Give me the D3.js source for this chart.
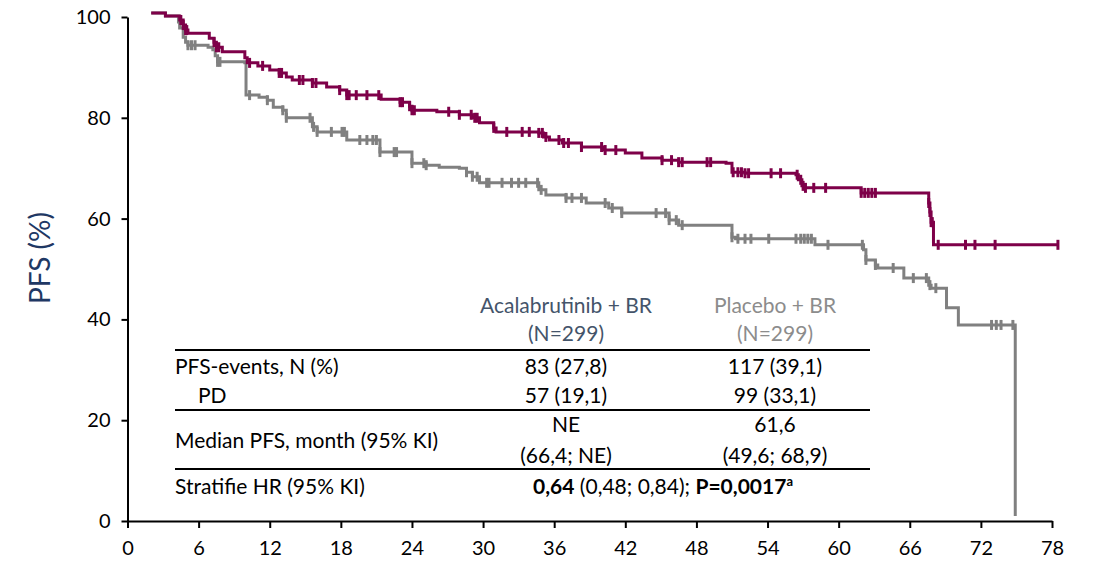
<!DOCTYPE html>
<html><head><meta charset="utf-8">
<script src="https://cdn.jsdelivr.net/npm/d3@7"></script>
<style>
body{margin:0;background:#fff;}
svg{display:block;font-family:Lato, "Open Sans", sans-serif;}
</style></head>
<body><svg id="c" width="1094" height="566"></svg>
<script>
// x ticks (months) and y ticks (%)
const xTicks = [0,6,12,18,24,30,36,42,48,54,60,66,72,78];
const yTicks = [0,20,40,60,80,100];

// Kaplan-Meier steps [month, PFS %]
const acalaSteps = [[2.0,100.8],[3.2,100.2],[4.4,99.4],[4.7,98.4],[4.9,97.4],[5.1,96.8],[6.9,95.8],[7.3,95.0],[7.5,94.0],[8.0,93.1],[9.9,91.9],[10.1,90.9],[11.0,90.3],[12.0,89.5],[12.8,88.9],[13.4,88.1],[13.9,87.5],[15.6,86.9],[16.8,86.1],[17.9,85.5],[18.5,84.5],[21.4,83.7],[23.0,83.1],[23.8,82.3],[24.0,81.5],[26.1,81.2],[28.0,80.6],[29.1,80.0],[29.7,79.0],[30.9,78.0],[31.1,77.2],[34.7,77.0],[35.1,76.2],[35.6,75.6],[36.7,75.0],[38.3,74.2],[40.2,73.6],[42.0,73.0],[43.4,72.0],[45.1,71.6],[46.5,71.2],[50.5,71.0],[51.0,69.2],[52.1,69.0],[56.4,68.7],[56.6,67.7],[56.9,66.5],[57.1,66.1],[61.9,65.1],[67.6,63.1],[67.7,61.3],[67.8,59.3],[68.0,54.8]];
const acalaEnd = 78.5;
const acalaCensors = [4.5,4.7,4.9,5.0,7.3,7.5,7.7,10.3,11.4,12.8,13.0,14.5,14.8,15.6,15.9,17.9,18.5,18.7,19.3,20.2,21.2,23.0,23.2,23.8,24.0,24.2,27.1,28.0,29.0,29.3,29.5,30.9,32.0,33.3,33.9,34.7,35.0,35.3,36.4,36.8,37.2,38.3,40.0,40.3,41.2,45.1,45.9,46.5,46.8,48.9,49.2,51.1,51.5,51.8,52.1,52.4,54.3,55.1,56.5,56.8,57.0,57.2,57.9,58.9,61.9,62.2,62.5,62.8,63.1,67.6,67.7,67.8,67.9,68.4,70.7,71.5,73.2,78.5];

const placeboSteps = [[2.0,100.8],[3.2,100.2],[4.3,99.0],[4.4,97.8],[4.7,96.0],[4.9,95.0],[5.1,94.4],[6.8,94.0],[7.2,93.5],[7.4,92.3],[7.6,91.1],[9.9,90.9],[10.0,84.5],[11.1,84.1],[11.8,83.5],[12.3,82.1],[13.1,81.5],[13.4,80.0],[15.6,78.2],[16.0,77.2],[18.5,75.6],[21.3,73.2],[24.0,71.0],[25.2,70.6],[26.3,70.2],[28.0,70.0],[28.6,69.2],[29.1,68.3],[29.7,67.1],[34.7,65.7],[35.3,64.7],[37.0,64.1],[38.7,63.1],[40.6,62.1],[41.7,61.1],[45.7,59.7],[46.5,58.7],[51.0,56.3],[51.3,56.0],[58.0,54.8],[62.1,53.8],[62.3,51.8],[63.1,50.8],[63.3,50.2],[65.5,48.2],[67.6,46.8],[67.8,46.2],[69.1,42.3],[70.1,38.9],[74.9,1.0]];
const placeboEnd = 74.9;
const placeboCensors = [5.1,5.4,5.7,7.6,7.8,10.3,11.8,13.1,13.4,15.4,15.7,16.0,17.2,18.1,18.3,19.6,20.2,20.7,21.0,21.3,22.5,22.7,24.0,25.0,25.2,28.6,29.1,29.5,30.3,30.5,31.6,32.4,33.0,33.6,34.6,34.9,37.0,37.5,38.3,40.3,40.9,41.7,44.6,45.4,45.7,46.3,46.8,51.0,51.5,52.1,52.6,54.1,56.4,56.8,57.1,57.4,57.7,59.1,62.0,62.3,63.1,64.6,66.3,67.4,67.7,68.2,72.9,73.3,73.7,74.7];

// table content
const colHeads = [["Acalabrutinib + BR","(N=299)"],["Placebo + BR","(N=299)"]];
const rowLabels = ["PFS-events, N (%)","PD","Median PFS, month (95% KI)","Stratifie HR (95% KI)"];
const eventsVals = ["83 (27,8)","117 (39,1)"];
const pdVals = ["57 (19,1)","99 (33,1)"];
const medianVals = [["NE","(66,4; NE)"],["61,6","(49,6; 68,9)"]];
const hrParts = [["0,64",true],[" (0,48; 0,84); ",false],["P=0,0017",true]];

const RED = "#7e0049", GRAY = "#808080";
const svg = d3.select("#c");
const x = d3.scaleLinear().domain([0,78]).range([127.5,1052]);
const y = d3.scaleLinear().domain([0,100]).range([521,17]);

// axes
const yAxis = svg.append("g").attr("transform","translate(127.5,0)")
  .call(d3.axisLeft(y).tickValues(yTicks).tickSize(6).tickSizeOuter(0).tickPadding(11));
const xAxis = svg.append("g").attr("transform","translate(0,521)")
  .call(d3.axisBottom(x).tickValues(xTicks).tickSize(7).tickSizeOuter(0).tickPadding(10));
[yAxis,xAxis].forEach(g=>{
  g.select(".domain").attr("stroke","#000").attr("stroke-width",2);
  g.selectAll(".tick line").attr("stroke","#000").attr("stroke-width",2);
  g.selectAll(".tick text").attr("fill","#000").style("font-size","20px").style("font-family","Lato, sans-serif");
});
xAxis.selectAll(".tick text").attr("dy","0.85em");

svg.append("text").attr("transform","translate(50,258) rotate(-90)")
  .attr("text-anchor","middle").attr("fill","#1f3864").style("font-size","28px").text("PFS (%)");

function drawCurve(steps,end,censors,color){
  const pts = steps.concat([[end,steps[steps.length-1][1]]]);
  const line = d3.line().x(d=>x(d[0])).y(d=>y(d[1])).curve(d3.curveStepAfter);
  svg.append("path").datum(pts).attr("d",line).attr("fill","none")
    .attr("stroke",color).attr("stroke-width",3);
  const sAt = t=>{let s=steps[0][1]; for(const st of steps){ if(st[0]<=t) s=st[1]; } return s;};
  svg.append("g").selectAll("line").data(censors).join("line")
    .attr("x1",d=>x(d)).attr("x2",d=>x(d))
    .attr("y1",d=>y(sAt(d))-5).attr("y2",d=>y(sAt(d))+5)
    .attr("stroke",color).attr("stroke-width",3);
}
drawCurve(placeboSteps,placeboEnd,placeboCensors,GRAY);
drawCurve(acalaSteps,acalaEnd,acalaCensors,RED);

// table
const T = svg.append("g").style("font-size","21px");
const c1 = 566, c2 = 775, left = 175;
const headCol = ["#44546a","#8c8c8c"];
colHeads.forEach((h,i)=>{
  const cx = i===0?c1:c2;
  T.append("text").attr("x",cx).attr("y",313).attr("text-anchor","middle").attr("fill",headCol[i]).text(h[0]);
  T.append("text").attr("x",cx).attr("y",341).attr("text-anchor","middle").attr("fill",headCol[i]).text(h[1]);
});
[350,410,469].forEach(yy=>T.append("line").attr("x1",left).attr("x2",870).attr("y1",yy).attr("y2",yy).attr("stroke","#000").attr("stroke-width",2));
T.append("text").attr("x",left).attr("y",374).attr("fill","#000").text(rowLabels[0]);
T.append("text").attr("x",left+23).attr("y",403).attr("fill","#000").text(rowLabels[1]);
T.append("text").attr("x",left).attr("y",448).attr("fill","#000").text(rowLabels[2]);
T.append("text").attr("x",left).attr("y",494).attr("fill","#000").text(rowLabels[3]);
[c1,c2].forEach((cx,i)=>{
  T.append("text").attr("x",cx).attr("y",374).attr("text-anchor","middle").attr("fill","#000").text(eventsVals[i]);
  T.append("text").attr("x",cx).attr("y",403).attr("text-anchor","middle").attr("fill","#000").text(pdVals[i]);
  T.append("text").attr("x",cx).attr("y",432).attr("text-anchor","middle").attr("fill","#000").text(medianVals[i][0]);
  T.append("text").attr("x",cx).attr("y",463).attr("text-anchor","middle").attr("fill","#000").text(medianVals[i][1]);
});
const hr = T.append("text").attr("x",533).attr("y",494).attr("fill","#000");
hrParts.forEach(p=>hr.append("tspan").style("font-weight",p[1]?"bold":"normal").text(p[0]));
hr.append("tspan").attr("dy","-8").style("font-size","13px").style("font-weight","bold").text("a");
</script></body></html>
